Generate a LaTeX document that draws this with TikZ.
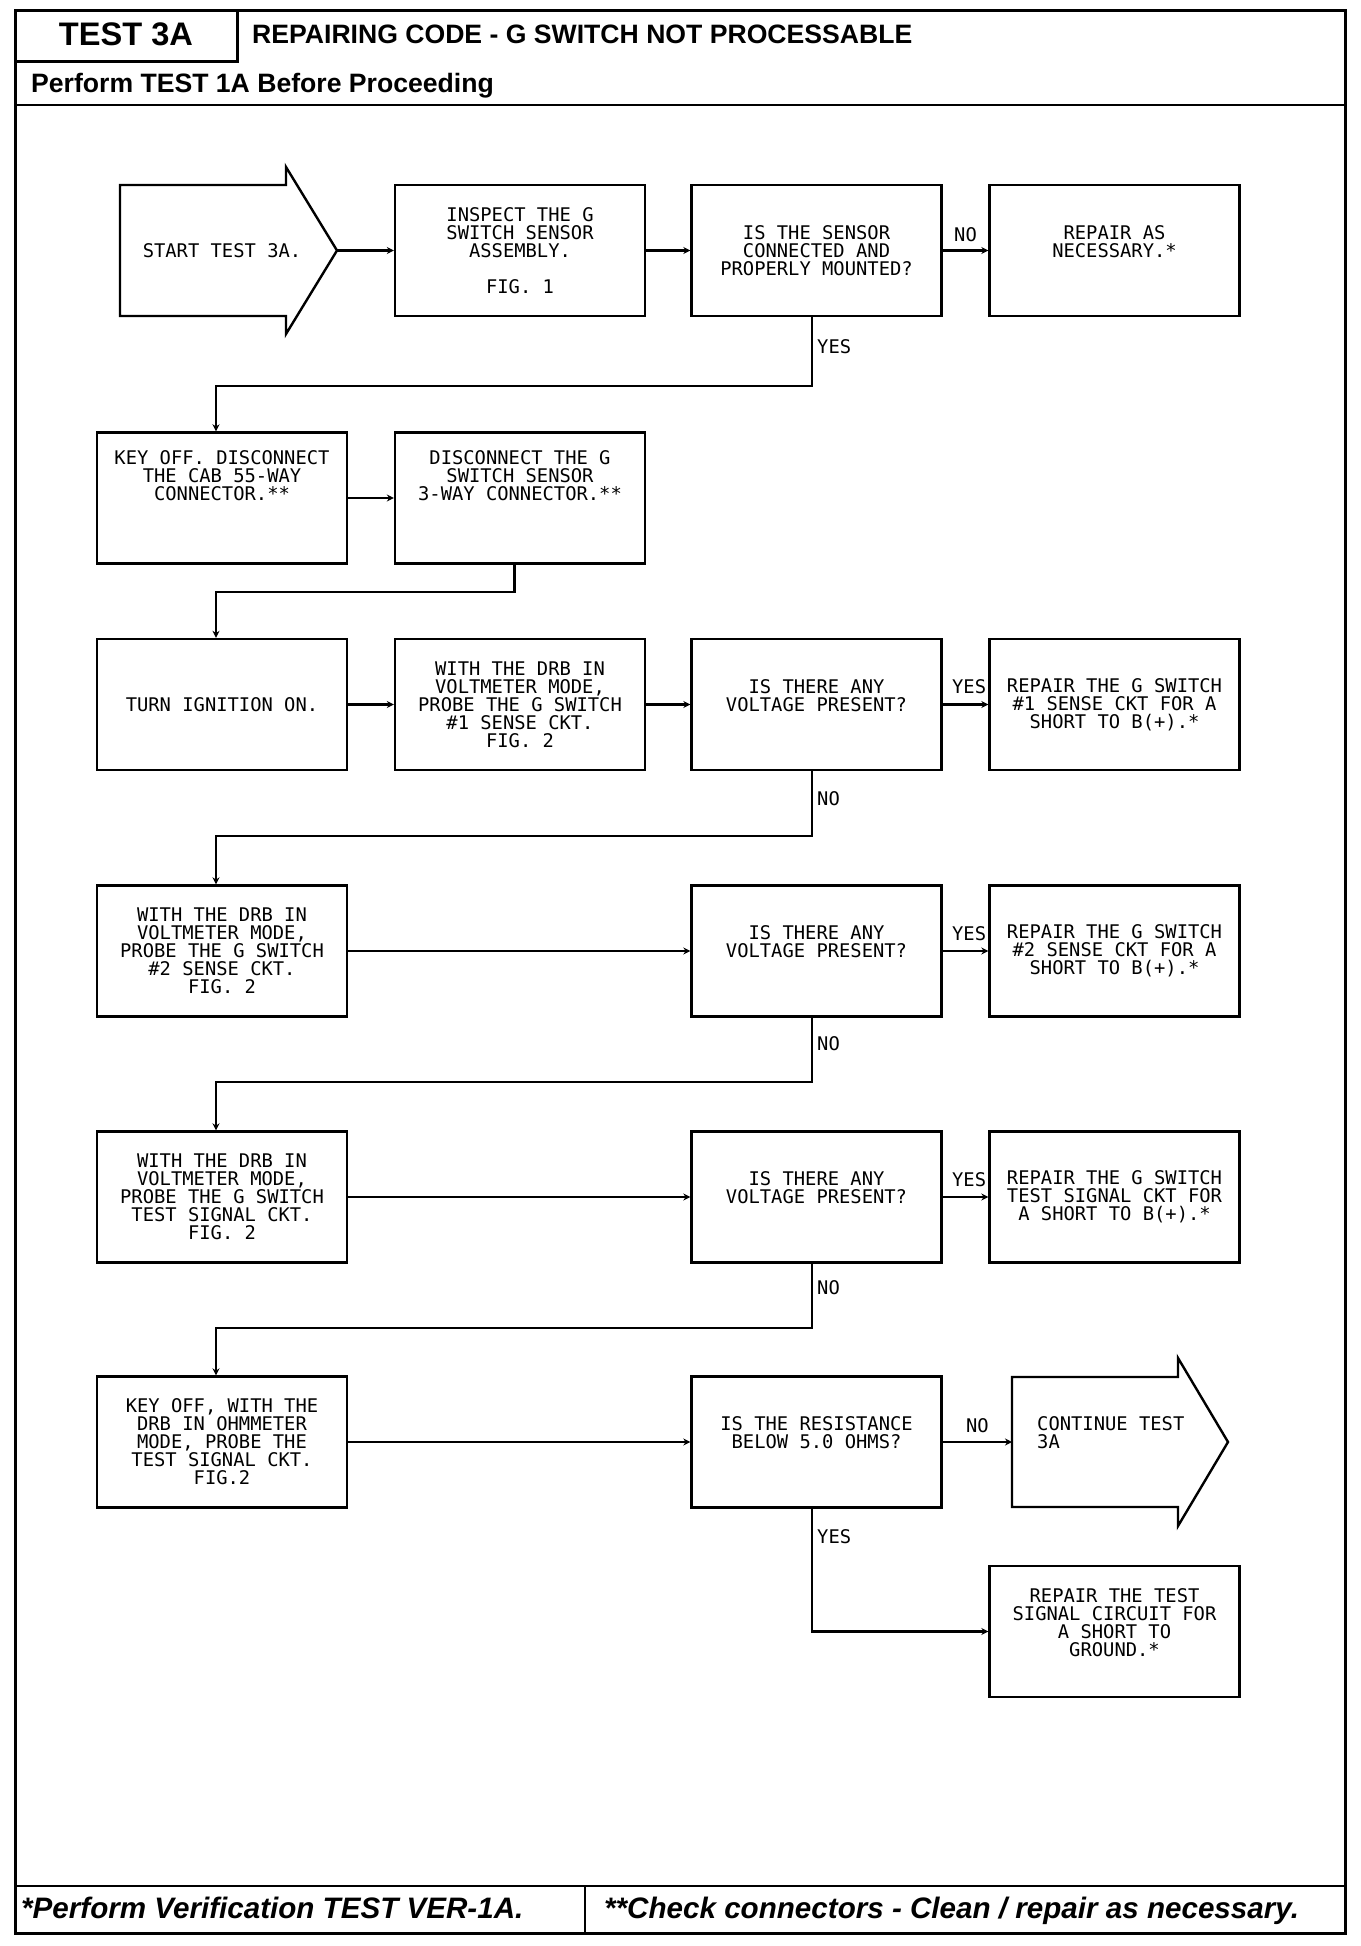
\documentclass[tikz,border=0pt]{standalone}
\usepackage{fontspec}
\setmainfont{Liberation Sans}
\newfontfamily\plotfont{DejaVu Sans Mono}
\usetikzlibrary{arrows.meta}
\begin{document}
\begin{tikzpicture}[x=0.5pt,y=-0.5pt,line width=1.2pt,
  fbox/.style={draw, rectangle, minimum width=125pt, minimum height=65.5pt, inner sep=0pt, align=center, font=\plotfont\fontsize{9.4pt}{9pt}\selectfont},
  ptext/.style={inner sep=0pt, font=\plotfont\fontsize{9.4pt}{9pt}\selectfont},
  arr/.style={-{Stealth[length=3.5pt,width=3.5pt]}},
  hdr/.style={inner sep=0pt, font=\bfseries\fontsize{13.3pt}{15pt}\selectfont},
  ftr/.style={inner sep=0pt, font=\bfseries\itshape\fontsize{14.8pt}{17pt}\selectfont}]

\useasboundingbox (0,0) rectangle (1360,1946);

% frame
\draw[line width=1.5pt] (15,11) rectangle (1345,1933);
\draw[line width=1.5pt] (15,62) -- (237,62) -- (237,11);
\draw (15,105) -- (1345,105);
\draw (15,1886) -- (1345,1886);
\draw (585,1886) -- (585,1933);

% header / footer texts
\node[hdr, font=\bfseries\fontsize{16.3pt}{19pt}\selectfont, anchor=base] (testno) at (126,46) {TEST 3A};
\node[hdr, anchor=base west] (title) at (251,44) {REPAIRING CODE - G SWITCH NOT PROCESSABLE};
\node[hdr, anchor=base west] (pre) at (30,93) {Perform TEST 1A Before Proceeding};
\node[ftr, anchor=base west] (f1) at (20,1918) {*Perform Verification TEST VER-1A.};
\node[ftr, anchor=base west] (f2) at (603,1918) {**Check connectors - Clean / repair as necessary.};

% start arrow
\draw (120,185) -- (286,185) -- (286,167) -- (337,250.5) -- (286,334) -- (286,316) -- (120,316) -- cycle;
\node[ptext] (start) at (222,250.5) {START TEST 3A.};
\coordinate (starttip) at (337,250.5);

% continue arrow
\draw (1012,1377) -- (1178,1377) -- (1178,1358) -- (1228,1442) -- (1178,1526) -- (1178,1507) -- (1012,1507) -- cycle;
\coordinate (contin) at (1012,1442);
\node[ptext, anchor=west, align=left] (cont) at (1036,1442) {CONTINUE TEST\\3A\\\mbox{}};

% row 1
\node[fbox] (inspect) at (520,250.5) {INSPECT THE G\\SWITCH SENSOR\\ASSEMBLY.\\[9pt]FIG. 1};
\node[fbox] (sensor) at (816.5,250.5) {IS THE SENSOR\\CONNECTED AND\\PROPERLY MOUNTED?};
\node[fbox] (repair1) at (1114.5,250.5) {REPAIR AS\\NECESSARY.*\\\mbox{}};

% row 2
\node[fbox] (keyoff) at (222,498) {KEY OFF. DISCONNECT\\THE CAB 55-WAY\\CONNECTOR.**\\\mbox{}\\\mbox{}\\[-4.5pt]\mbox{}};
\node[fbox] (disc) at (520,498) {DISCONNECT THE G\\SWITCH SENSOR\\3-WAY CONNECTOR.**\\\mbox{}\\\mbox{}\\[-4.5pt]\mbox{}};

% row 3
\node[fbox] (turnign) at (222,704.5) {TURN IGNITION ON.};
\node[fbox] (drb1) at (520,704.5) {WITH THE DRB IN\\VOLTMETER MODE,\\PROBE THE G SWITCH\\\#1 SENSE CKT.\\FIG. 2};
\node[fbox] (volt1) at (816.5,704.5) {IS THERE ANY\\VOLTAGE PRESENT?\\\mbox{}};
\node[fbox] (rep1) at (1114.5,704.5) {REPAIR THE G SWITCH\\\#1 SENSE CKT FOR A\\SHORT TO B(+).*};

% row 4
\node[fbox] (drb2) at (222,951) {WITH THE DRB IN\\VOLTMETER MODE,\\PROBE THE G SWITCH\\\#2 SENSE CKT.\\FIG. 2};
\node[fbox] (volt2) at (816.5,951) {IS THERE ANY\\VOLTAGE PRESENT?\\\mbox{}};
\node[fbox] (rep2) at (1114.5,951) {REPAIR THE G SWITCH\\\#2 SENSE CKT FOR A\\SHORT TO B(+).*};

% row 5
\node[fbox] (drb3) at (222,1197) {WITH THE DRB IN\\VOLTMETER MODE,\\PROBE THE G SWITCH\\TEST SIGNAL CKT.\\FIG. 2};
\node[fbox] (volt3) at (816.5,1197) {IS THERE ANY\\VOLTAGE PRESENT?\\\mbox{}};
\node[fbox] (rep3) at (1114.5,1197) {REPAIR THE G SWITCH\\TEST SIGNAL CKT FOR\\A SHORT TO B(+).*};

% row 6
\node[fbox] (keyoff2) at (222,1442) {KEY OFF, WITH THE\\DRB IN OHMMETER\\MODE, PROBE THE\\TEST SIGNAL CKT.\\FIG.2};
\node[fbox] (res) at (816.5,1442) {IS THE RESISTANCE\\BELOW 5.0 OHMS?\\\mbox{}};
\node[fbox] (rep4) at (1114.5,1631.5) {REPAIR THE TEST\\SIGNAL CIRCUIT FOR\\A SHORT TO\\GROUND.*\\\mbox{}};

% connectors
\draw[arr] (starttip) -- (inspect.west);
\draw[arr] (inspect.east) -- (sensor.west);
\draw[arr] (sensor.east) -- node[ptext, above=4pt] (no1) {NO} (repair1.west);
\draw[arr] ([xshift=-2.25pt]sensor.south) -- node[ptext, pos=0.42, right=2pt] (yes1) {YES} ++(0,69) -| ([xshift=-3pt]keyoff.north);

\draw[arr] (keyoff.east) -- (disc.west);
\draw[arr] ([xshift=-2.8pt]disc.south) -- ++(0,27) -| ([xshift=-3pt]turnign.north);

\draw[arr] (turnign.east) -- (drb1.west);
\draw[arr] (drb1.east) -- (volt1.west);
\draw[arr] (volt1.east) -- (rep1.west);
\node[ptext, anchor=south east] (yes2) at ([xshift=-0.5pt,yshift=4.75pt]rep1.west) {YES};
\draw[arr] ([xshift=-2.25pt]volt1.south) -- node[ptext, pos=0.43, right=2pt] (no2) {NO} ++(0,65) -| ([xshift=-3pt]drb2.north);

\draw[arr] (drb2.east) -- (volt2.west);
\draw[arr] (volt2.east) -- (rep2.west);
\node[ptext, anchor=south east] (yes3) at ([xshift=-0.5pt,yshift=4.75pt]rep2.west) {YES};
\draw[arr] ([xshift=-2.25pt]volt2.south) -- node[ptext, pos=0.41, right=2pt] (no3) {NO} ++(0,64) -| ([xshift=-3pt]drb3.north);

\draw[arr] (drb3.east) -- (volt3.west);
\draw[arr] (volt3.east) -- (rep3.west);
\node[ptext, anchor=south east] (yes4) at ([xshift=-0.5pt,yshift=4.75pt]rep3.west) {YES};
\draw[arr] ([xshift=-2.25pt]volt3.south) -- node[ptext, pos=0.38, right=2pt] (no4) {NO} ++(0,64) -| ([xshift=-3pt]keyoff2.north);

\draw[arr] (keyoff2.east) -- (res.west);
\draw[arr] (res.east) -- node[ptext, above=4pt] (no5) {NO} (contin);
\draw[arr] ([xshift=-2.25pt]res.south) -- node[ptext, pos=0.23, right=2pt] (yes5) {YES} ([xshift=-2.25pt]res.south |- rep4.west) -- (rep4.west);

\end{tikzpicture}
\end{document}
